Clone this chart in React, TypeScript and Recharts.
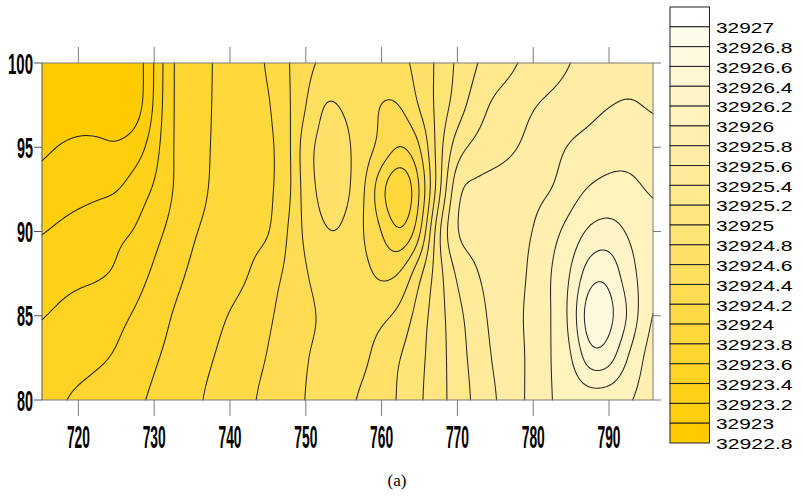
import React, { useMemo } from 'react';
import * as RC from 'recharts';

const R: any = RC;
const { ComposedChart, XAxis, YAxis, Scatter, Customized } = R;

// ---------- data ----------
const xDomain = [715.2, 795.8];
const yDomain = [80, 100];
const xTicks = [720, 730, 740, 750, 760, 770, 780, 790];
const yTicks = [80, 85, 90, 95, 100];

const xNodes = [715, 717.5, 720, 722.5, 725, 727.5, 730, 732.5, 735, 737.5, 740, 742.5, 745, 747.5, 750, 752.5, 755, 757.5, 760, 762.5, 765, 767.5, 770, 772.5, 775, 777.5, 780, 782.5, 785, 787.5, 790, 792.5, 795, 797.5];
const yNodes = [100, 97.5, 95, 92.5, 90, 87.5, 85, 82.5, 80];

const zAtY100 = [32922.72, 32922.74, 32922.76, 32922.78, 32922.80, 32922.87, 32923.204, 32923.606, 32923.70, 32923.796, 32923.866, 32923.936, 32924.016, 32924.174, 32924.344, 32924.44, 32924.47, 32924.50, 32924.51, 32924.55, 32924.668, 32924.846, 32925.036, 32925.194, 32925.292, 32925.386, 32925.46, 32925.532, 32925.604, 32925.64, 32925.68, 32925.71, 32925.73, 32925.74];
const zAtY97_5 = [32922.82, 32922.85, 32922.88, 32922.88, 32922.87, 32922.89, 32923.226, 32923.606, 32923.70, 32923.80, 32923.86, 32923.918, 32923.978, 32924.156, 32924.396, 32924.616, 32924.58, 32924.50, 32924.39, 32924.40, 32924.62, 32924.862, 32925.098, 32925.304, 32925.44, 32925.514, 32925.588, 32925.644, 32925.694, 32925.744, 32925.794, 32925.82, 32925.79, 32925.77];
const zAtY95 = [32922.96, 32923.01, 32923.04, 32923.04, 32923.02, 32923.10, 32923.312, 32923.606, 32923.706, 32923.806, 32923.856, 32923.908, 32923.96, 32924.12, 32924.52, 32924.66, 32924.65, 32924.50, 32924.34, 32924.18, 32924.38, 32924.90, 32925.314, 32925.452, 32925.518, 32925.586, 32925.662, 32925.74, 32925.82, 32925.87, 32925.92, 32925.92, 32925.89, 32925.88];
const zAtY92_5 = [32923.074, 32923.102, 32923.13, 32923.158, 32923.186, 32923.294, 32923.42, 32923.606, 32923.72, 32923.814, 32923.86, 32923.912, 32923.964, 32924.12, 32924.50, 32924.66, 32924.66, 32924.44, 32924.06, 32923.80, 32924.20, 32924.92, 32925.56, 32925.64, 32925.68, 32925.71, 32925.75, 32925.80, 32925.92, 32926.02, 32926.06, 32926.06, 32925.99, 32925.96];
const zAtY90 = [32923.19, 32923.23, 32923.28, 32923.32, 32923.36, 32923.41, 32923.54, 32923.66, 32923.78, 32923.84, 32923.89, 32923.94, 32923.98, 32924.19, 32924.45, 32924.59, 32924.58, 32924.41, 32924.20, 32924.00, 32924.34, 32925.16, 32925.61, 32925.66, 32925.70, 32925.75, 32925.80, 32925.94, 32926.08, 32926.24, 32926.28, 32926.18, 32926.10, 32926.06];
const zAtY87_5 = [32923.29, 32923.33, 32923.36, 32923.38, 32923.42, 32923.52, 32923.63, 32923.74, 32923.83, 32923.88, 32923.92, 32924.00, 32924.12, 32924.23, 32924.39, 32924.48, 32924.52, 32924.46, 32924.36, 32924.41, 32924.75, 32925.12, 32925.44, 32925.59, 32925.67, 32925.74, 32925.84, 32926.01, 32926.21, 32926.52, 32926.54, 32926.28, 32926.12, 32926.08];
const zAtY85 = [32923.39, 32923.43, 32923.47, 32923.50, 32923.55, 32923.62, 32923.71, 32923.81, 32923.88, 32923.94, 32924.01, 32924.09, 32924.17, 32924.27, 32924.36, 32924.43, 32924.48, 32924.52, 32924.56, 32924.66, 32924.90, 32925.12, 32925.34, 32925.52, 32925.66, 32925.75, 32925.86, 32926.01, 32926.26, 32926.74, 32926.66, 32926.38, 32926.05, 32925.94];
const zAtY82_5 = [32923.47, 32923.50, 32923.53, 32923.57, 32923.62, 32923.69, 32923.78, 32923.85, 32923.92, 32923.99, 32924.06, 32924.13, 32924.21, 32924.30, 32924.39, 32924.45, 32924.50, 32924.56, 32924.68, 32924.80, 32924.95, 32925.12, 32925.31, 32925.48, 32925.63, 32925.73, 32925.86, 32926.01, 32926.18, 32926.52, 32926.48, 32926.19, 32925.96, 32925.88];
const zAtY80 = [32923.53, 32923.58, 32923.63, 32923.676, 32923.722, 32923.77, 32923.826, 32923.894, 32923.96, 32924.03, 32924.10, 32924.17, 32924.25, 32924.33, 32924.404, 32924.476, 32924.548, 32924.628, 32924.722, 32924.826, 32924.972, 32925.128, 32925.29, 32925.448, 32925.592, 32925.724, 32925.864, 32926.004, 32926.06, 32926.10, 32926.09, 32926.02, 32925.94, 32925.90];

const zRows = [zAtY100, zAtY97_5, zAtY95, zAtY92_5, zAtY90, zAtY87_5, zAtY85, zAtY82_5, zAtY80];

const levelBase = 32922.8;
const levelStep = 0.2;
const colorbarLabels = ['32927', '32926.8', '32926.6', '32926.4', '32926.2', '32926', '32925.8', '32925.6', '32925.4', '32925.2', '32925', '32924.8', '32924.6', '32924.4', '32924.2', '32924', '32923.8', '32923.6', '32923.4', '32923.2', '32923', '32922.8'];
// bin colours, lowest bin first
const binColors = ['#FFCC00', '#FFCE0C', '#FFD118', '#FFD323', '#FFD52F', '#FFD83B', '#FFDA47', '#FFDC52', '#FFDF5E', '#FFE16A', '#FFE476', '#FFE681', '#FFE88D', '#FFEB99', '#FFEDA5', '#FFEFB0', '#FFF2BC', '#FFF4C8', '#FFF6D4', '#FFF9DF', '#FFFBEB', '#FFFFFF'];

const cornerPoints = [{ x: xDomain[0], y: yDomain[0] }, { x: xDomain[1], y: yDomain[1] }];

// ---------- field interpolation ----------
const NROWS = yNodes.length;
const NCOLS = xNodes.length;
const levelGrid = zRows.map(r => r.map(v => (v - levelBase) / levelStep));

function node(r: number, c: number) {
  const rr = Math.max(0, Math.min(NROWS - 1, r));
  const cc = Math.max(0, Math.min(NCOLS - 1, c));
  return levelGrid[rr][cc];
}
function cubic(p0: number, p1: number, p2: number, p3: number, t: number) {
  return 0.5 * (2 * p1 + (-p0 + p2) * t + (2 * p0 - 5 * p1 + 4 * p2 - p3) * t * t + (-p0 + 3 * p1 - 3 * p2 + p3) * t * t * t);
}
function fieldLevel(x: number, y: number) {
  const gc = (x - xNodes[0]) / (xNodes[1] - xNodes[0]);
  const gr = (yNodes[0] - y) / (yNodes[0] - yNodes[1]);
  const c = Math.floor(gc), r = Math.floor(gr);
  const tc = gc - c, tr = gr - r;
  const v: number[] = [];
  for (let k = -1; k <= 2; k++) {
    v.push(cubic(node(r + k, c - 1), node(r + k, c), node(r + k, c + 1), node(r + k, c + 2), tc));
  }
  return cubic(v[0], v[1], v[2], v[3], tr);
}

// ---------- plot area from the chart ----------
const FALLBACK = { x: 42, y: 63, width: 611, height: 337 };
const hasPA = typeof R.usePlotArea === 'function';
const hasOff = typeof R.useOffset === 'function';
const hasWH = typeof R.useChartWidth === 'function' && typeof R.useChartHeight === 'function';
function usePlotRect() {
  const pa = hasPA ? R.usePlotArea() : undefined;
  const off = hasOff ? R.useOffset() : undefined;
  const cw = hasWH ? R.useChartWidth() : undefined;
  const ch = hasWH ? R.useChartHeight() : undefined;
  if (pa && pa.width > 0) return { x: pa.x, y: pa.y, width: pa.width, height: pa.height };
  if (off && cw && ch) return { x: off.left, y: off.top, width: cw - off.left - off.right, height: ch - off.top - off.bottom };
  return FALLBACK;
}

function gaussKernel(sigma: number) {
  const rad = Math.ceil(sigma * 3);
  const k: number[] = [];
  let s = 0;
  for (let i = -rad; i <= rad; i++) { const w = Math.exp(-(i * i) / (2 * sigma * sigma)); k.push(w); s += w; }
  return { k: k.map(w => w / s), rad };
}

// reflect-padding keeps straight gradients straight at the frame
function reflect(i: number, n: number) {
  if (i < 0) return Math.min(n - 1, -i);
  if (i >= n) return Math.max(0, 2 * (n - 1) - i);
  return i;
}

function blur(G: Float64Array, S: number, R2: number, sigma: number) {
  const { k, rad } = gaussKernel(sigma);
  const T = new Float64Array(G.length);
  for (let j = 0; j < R2; j++) {
    for (let i = 0; i < S; i++) {
      let acc = 0;
      for (let q = -rad; q <= rad; q++) {
        const ii = reflect(i + q, S);
        let v = G[j * S + ii];
        if (i + q < 0 || i + q >= S) v = 2 * G[j * S + (i + q < 0 ? 0 : S - 1)] - v;
        acc += k[q + rad] * v;
      }
      T[j * S + i] = acc;
    }
  }
  const O = new Float64Array(G.length);
  for (let j = 0; j < R2; j++) {
    for (let i = 0; i < S; i++) {
      let acc = 0;
      for (let q = -rad; q <= rad; q++) {
        const jj = reflect(j + q, R2);
        let v = T[jj * S + i];
        if (j + q < 0 || j + q >= R2) v = 2 * T[(j + q < 0 ? 0 : R2 - 1) * S + i] - v;
        acc += k[q + rad] * v;
      }
      O[j * S + i] = acc;
    }
  }
  return O;
}

function buildField(ax: number, ay: number, aw: number, ah: number) {
  const W = Math.round(aw), H = Math.round(ah);
  const x0 = Math.round(ax), y0 = Math.round(ay);
  const [xa, xb] = xDomain, [ya, yb] = yDomain;
  const S = W + 1;
  let G = new Float64Array(S * (H + 1));
  for (let j = 0; j <= H; j++) {
    const y = yb - (j / H) * (yb - ya);
    for (let i = 0; i <= W; i++) {
      const x = xa + (i / W) * (xb - xa);
      G[j * S + i] = fieldLevel(x, y);
    }
  }
  G = blur(G, S, H + 1, 5.5);
  const nb = binColors.length;
  const fills: string[][] = binColors.map(() => []);
  for (let j = 0; j < H; j++) {
    let runStart = 0, runBin = -1;
    for (let i = 0; i <= W; i++) {
      let b = -2;
      if (i < W) {
        const v = (G[j * S + i] + G[j * S + i + 1] + G[(j + 1) * S + i] + G[(j + 1) * S + i + 1]) / 4;
        b = Math.max(0, Math.min(nb - 1, Math.floor(v)));
      }
      if (b !== runBin) {
        if (runBin >= 0) {
          const len = i - runStart;
          fills[runBin].push(`M${x0 + runStart} ${y0 + j}h${len}v1h${-len}z`);
        }
        runBin = b;
        runStart = i;
      }
    }
  }
  const segs: string[] = [];
  const f = (n: number) => n.toFixed(2);
  for (let j = 0; j < H; j++) {
    for (let i = 0; i < W; i++) {
      const a = G[j * S + i], b = G[j * S + i + 1], c = G[(j + 1) * S + i + 1], d = G[(j + 1) * S + i];
      const lo = Math.min(a, b, c, d), hi = Math.max(a, b, c, d);
      const Lmin = Math.max(1, Math.floor(lo) + 1), Lmax = Math.min(nb - 1, Math.floor(hi));
      for (let L = Lmin; L <= Lmax; L++) {
        const sa = a >= L, sb = b >= L, sc = c >= L, sd = d >= L;
        const pts: number[][] = [];
        if (sa !== sb) { const t = (L - a) / (b - a); pts.push([x0 + i + t, y0 + j]); } else pts.push([]);
        if (sb !== sc) { const t = (L - b) / (c - b); pts.push([x0 + i + 1, y0 + j + t]); } else pts.push([]);
        if (sd !== sc) { const t = (L - d) / (c - d); pts.push([x0 + i + t, y0 + j + 1]); } else pts.push([]);
        if (sa !== sd) { const t = (L - a) / (d - a); pts.push([x0 + i, y0 + j + t]); } else pts.push([]);
        const got = pts.filter(p => p.length);
        if (got.length === 2) {
          segs.push(`M${f(got[0][0])} ${f(got[0][1])}L${f(got[1][0])} ${f(got[1][1])}`);
        } else if (got.length === 4) {
          const centre = (a + b + c + d) / 4 >= L;
          const [T, Rr, B, Lf] = pts;
          if (centre === sa) {
            segs.push(`M${f(T[0])} ${f(T[1])}L${f(Rr[0])} ${f(Rr[1])}`);
            segs.push(`M${f(B[0])} ${f(B[1])}L${f(Lf[0])} ${f(Lf[1])}`);
          } else {
            segs.push(`M${f(T[0])} ${f(T[1])}L${f(Lf[0])} ${f(Lf[1])}`);
            segs.push(`M${f(Rr[0])} ${f(Rr[1])}L${f(B[0])} ${f(B[1])}`);
          }
        }
      }
    }
  }
  return { fills: fills.map(a => a.join('')), lines: segs.join('') };
}

function ContourField() {
  const area = usePlotRect();
  const res = useMemo(() => buildField(area.x, area.y, area.width, area.height), [area.x, area.y, area.width, area.height]);
  return (
    <g className="contour-field">
      {res.fills.map((d, b) => (d ? <path key={b} d={d} fill={binColors[b]} shapeRendering="crispEdges" /> : null))}
      <path d={res.lines} fill="none" stroke="#262626" strokeWidth={1.05} strokeLinecap="round" />
    </g>
  );
}

// ---------- colour bar ----------
function ColorBar() {
  const left = 670, width = 39.5, top = 7, bottom = 443;
  const n = binColors.length;
  const h = (bottom - top) / n;
  const items: any[] = [];
  for (let k = 0; k < n; k++) {
    const bin = n - 1 - k;
    items.push(<rect key={'r' + k} x={left} y={top + k * h} width={width} height={h} fill={binColors[bin]} stroke="#222" strokeWidth={1} />);
  }
  colorbarLabels.forEach((lab, k) => {
    const y = top + (k + 1) * h;
    const digits = lab.replace('.', '').length;
    const dots = lab.includes('.') ? 1 : 0;
    items.push(
      <text key={'t' + k} x={716} y={y + 6.3} fontFamily="'Liberation Sans', Arial, sans-serif" fontSize={15} fill="#000" textLength={digits * 11.6 + dots * 7} lengthAdjust="spacingAndGlyphs">{lab}</text>
    );
  });
  return <g className="colorbar">{items}</g>;
}

function Caption() {
  return <text x={397} y={486} textAnchor="middle" fontFamily="'Liberation Serif', 'Times New Roman', serif" fontSize={17} fill="#000">(a)</text>;
}

const XTick = (p: any) => (
  <text x={p.x} y={p.y + 30} textAnchor="middle" fontFamily="'Liberation Sans Narrow', 'Liberation Sans', Arial, sans-serif" fontWeight={700} fontSize={32} textLength={23} lengthAdjust="spacingAndGlyphs" fill="#000">{p.payload.value}</text>
);
const YTick = (p: any) => {
  const s = String(p.payload.value);
  return (
    <text x={p.x - 1} y={p.y + 10.5} textAnchor="end" fontFamily="'Liberation Sans Narrow', 'Liberation Sans', Arial, sans-serif" fontWeight={700} fontSize={29} textLength={s.length === 3 ? 25 : 16} lengthAdjust="spacingAndGlyphs" fill="#000">{s}</text>
  );
};
const NoTick = () => <g />;

export default function App() {
  return (
    <div style={{ position: 'absolute', left: 0, top: 0, width: 802, height: 497, background: '#fff' }}>
      <ComposedChart width={802} height={497} margin={{ top: 47, right: 139, bottom: 47, left: 8 }}>
        <Customized component={<ContourField />} />
        <XAxis xAxisId="b" type="number" dataKey="x" domain={xDomain} ticks={xTicks} allowDataOverflow orientation="bottom" height={50} tickSize={16} interval={0} stroke="#7a7a7a" tick={<XTick />} />
        <XAxis xAxisId="t" type="number" dataKey="x" domain={xDomain} ticks={xTicks} allowDataOverflow orientation="top" height={16} tickSize={16} interval={0} stroke="#7a7a7a" tick={<NoTick />} />
        <YAxis yAxisId="l" type="number" dataKey="y" domain={yDomain} ticks={yTicks} allowDataOverflow orientation="left" width={34} tickSize={8} tickMargin={0} interval={0} stroke="#555" tick={<YTick />} />
        <YAxis yAxisId="r" type="number" dataKey="y" domain={yDomain} ticks={yTicks} allowDataOverflow orientation="right" width={10} tickSize={8} interval={0} stroke="#7a7a7a" tick={<NoTick />} />
        <Scatter xAxisId="b" yAxisId="l" data={cornerPoints} isAnimationActive={false} shape={() => <g />} />
        <Customized component={<ColorBar />} />
        <Customized component={<Caption />} />
      </ComposedChart>
    </div>
  );
}
